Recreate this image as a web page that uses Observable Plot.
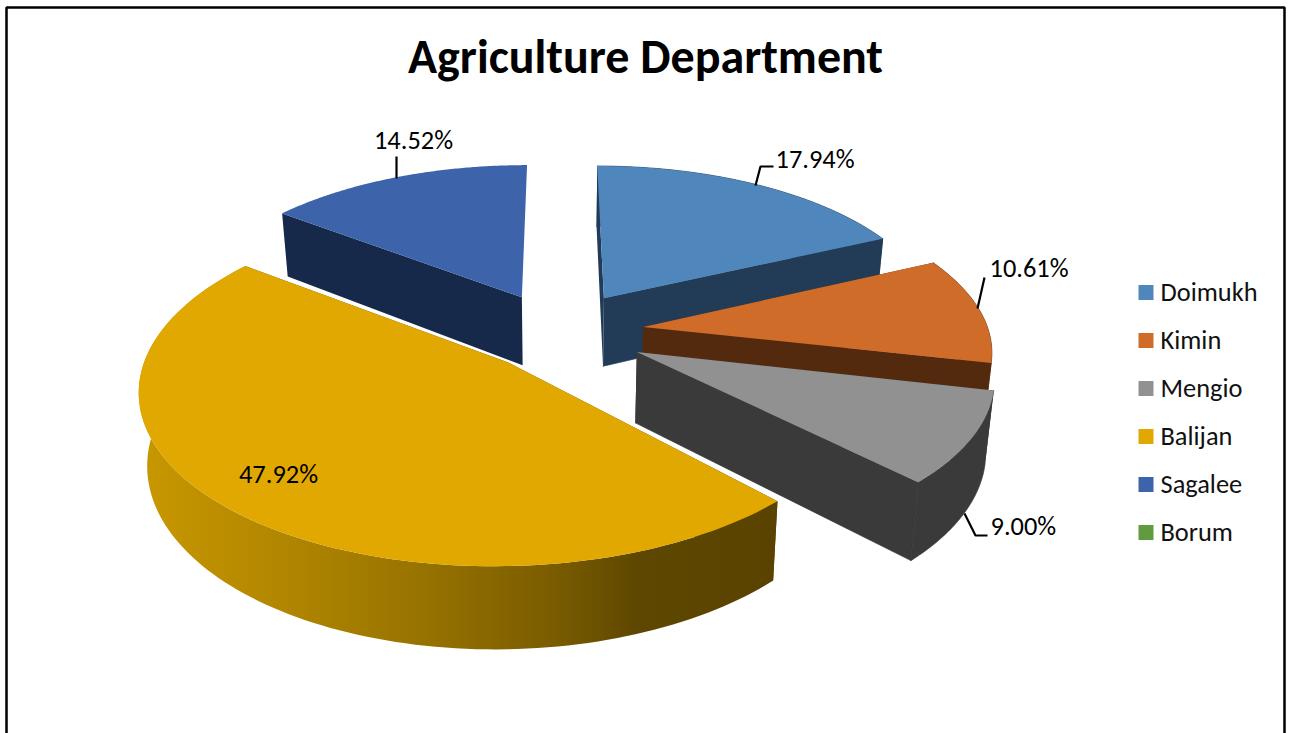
<!DOCTYPE html>
<html>
<head>
<meta charset="utf-8">
<title>Agriculture Department</title>
<script src="https://cdn.jsdelivr.net/npm/d3@7"></script>
<script src="https://cdn.jsdelivr.net/npm/@observablehq/plot@0.6"></script>
<style>
  html, body { margin: 0; padding: 0; background: #fff; }
  svg { display: block; }
</style>
</head>
<body>
<div id="chart"></div>
<script>
// Share of the department's budget by circle, in percent.
const circles = ["Doimukh", "Kimin", "Mengio", "Balijan", "Sagalee", "Borum"];
const shares = [17.94, 10.61, 9.00, 47.92, 14.52, 0];
const topColors = ["#4f86bb", "#cf6c29", "#919191", "#e0a800", "#3d64ab", "#629a3f"];
const wallColors = ["#223b57", "#542a0f", "#3a3a3a", "#5a4300", "#17294a", "#2f4c1e"];

// Labelled slices: where the text sits and the leader running back to the pie.
const labelSpots = [
  {circle: "Doimukh", x: 775, y: 159, anchor: "start", leader: [[755, 185], [760, 166], [773, 166]]},
  {circle: "Kimin", x: 989, y: 268, anchor: "start", leader: [[977, 308], [984, 277]]},
  {circle: "Mengio", x: 990, y: 526, anchor: "start", leader: [[964, 513], [975, 535], [987, 535]]},
  {circle: "Balijan", x: 278, y: 474, anchor: "middle", leader: []},
  {circle: "Sagalee", x: 413, y: 140, anchor: "middle", leader: [[396, 156], [396, 178]]}
];

// Perspective view of the disc: rays recede to a vanishing point high above it.
const view = {hubX: 558, vanishX: 560, horizon: -890, reach: 1225, foreshorten: 0.131,
  radius: 347, explodeU: 0.241, explodeV: 0.26, drop: 70, pinch: 0.98};
// Per-slice lens correction of the 3D view: arc size, arc offset and tip offset, in disc units.
const lens = {
  Doimukh: {width: 0.98, depth: 1, arc: [0, 0.006], tip: [0.006, 0.013]},
  Kimin: {width: 1.005, depth: 1, arc: [0, 0.025], tip: [0.006, 0]},
  Mengio: {width: 1.015, depth: 1, arc: [0, 0.019], tip: [0.012, 0.006]},
  Balijan: {width: 1.012, depth: 1.035, arc: [0.003, 0.02], tip: [0.015, 0.01]},
  Sagalee: {width: 0.985, depth: 1, arc: [0, 0], tip: [-0.003, 0.012]},
  Borum: {width: 1, depth: 1, arc: [0, 0], tip: [0, 0]}
};

function project(u, v, lowered) {
  const t = 1 / (1 + view.foreshorten * v);
  const top = [view.vanishX + (view.hubX - view.vanishX + view.radius * u) * t,
               view.horizon + view.reach * t];
  if (!lowered) return top;
  return [view.vanishX + (top[0] - view.vanishX) * view.pinch,
          view.horizon + (view.reach + view.drop) * t];
}

const total = d3.sum(shares);
const turn = 2 * Math.PI;
let running = 0;
const slices = circles.map((circle, i) => {
  const start = running / total * turn;
  running += shares[i];
  const end = running / total * turn;
  const mid = (start + end) / 2;
  const {width, depth, arc, tip} = lens[circle];
  const cu = view.explodeU * Math.sin(mid) + arc[0];
  const cv = view.explodeV * Math.cos(mid) + arc[1];
  const at = (a, lowered) => project(cu + width * Math.sin(a), cv + depth * Math.cos(a), lowered);
  const angles = d3.range(0, 121).map((k) => start + (end - start) * k / 120);
  const hub = (lowered) => project(cu + tip[0], cv + tip[1], lowered);
  const arcTop = angles.map((a) => at(a, false));
  const arcLow = angles.map((a) => at(a, true));
  return {
    circle, share: shares[i], top: topColors[i], wall: wallColors[i],
    cap: [hub(false), ...arcTop],
    startWall: [hub(false), at(start, false), at(start, true), hub(true)],
    endWall: [hub(false), at(end, false), at(end, true), hub(true)],
    rim: [...arcTop, ...arcLow.reverse()]
  };
});

const polygon = (points, fill, seam = "none") =>
  Plot.line(points, {x: (d) => d[0], y: (d) => d[1], fill, stroke: seam, strokeWidth: 0.7});

// Gradient across the Balijan rim, bright on the left and dark on the right.
const rimShade = () => {
  const defs = d3.create("svg:defs");
  const g = defs.append("linearGradient").attr("id", "balijan-rim")
    .attr("gradientUnits", "userSpaceOnUse")
    .attr("x1", 140).attr("x2", 775).attr("y1", 0).attr("y2", 0);
  [[0, "#c89800"], [0.2, "#b48800"], [0.45, "#967200"], [0.65, "#7a5c00"], [0.78, "#5e4700"], [1, "#5a4300"]]
    .forEach(([o, c]) => g.append("stop").attr("offset", o).attr("stop-color", c));
  return defs.node();
};

// Back slices first so the nearer ones paint over them.
const paintOrder = ["Borum", "Sagalee", "Doimukh", "Kimin", "Mengio", "Balijan"];
const sliceMarks = paintOrder.flatMap((name) => {
  const s = slices.find((d) => d.circle === name);
  if (!s.share) return [];
  const shaded = name === "Balijan";
  // Sagalee's rim and closing wall face away from the viewer.
  const hidden = name === "Sagalee";
  return [
    polygon(s.startWall, s.wall),
    ...(hidden ? [] : [
      polygon(s.endWall, s.wall, shaded ? "none" : s.wall),
      polygon(s.rim, shaded ? "url(#balijan-rim)" : s.wall, shaded ? "none" : s.wall)
    ]),
    polygon(s.cap, s.top)
  ];
});

const labels = labelSpots.map((d) => ({
  ...d, text: shares[circles.indexOf(d.circle)].toFixed(2) + "%"
}));

const legendRows = circles.map((circle, i) => ({
  circle, color: topColors[i], y: 292 + i * 48
}));

const labelText = (anchor) =>
  Plot.text(labels.filter((d) => d.anchor === anchor), {
    x: "x", y: "y", text: "text", textAnchor: anchor,
    fontSize: 26.4, fill: "#000", lineAnchor: "middle"
  });

const chart = Plot.plot({
  width: 1290,
  height: 733,
  margin: 0,
  x: {domain: [0, 1290], range: [0, 1290], axis: null},
  y: {domain: [0, 733], range: [0, 733], axis: null},
  style: {background: "#fff", fontFamily: "Carlito, Lato, sans-serif"},
  marks: [
    rimShade,
    Plot.line([[6, 733], [6, 7], [1284, 7], [1284, 733]], {
      x: (d) => d[0], y: (d) => d[1], stroke: "#000", strokeWidth: 2.5,
      strokeLinejoin: "miter", strokeLinecap: "butt"
    }),
    ...sliceMarks,
    ...labels.filter((d) => d.leader.length).map((d) =>
      Plot.line(d.leader, {x: (p) => p[0], y: (p) => p[1], stroke: "#000", strokeWidth: 2.2,
        strokeLinejoin: "miter", strokeLinecap: "butt"})),
    labelText("start"),
    labelText("middle"),
    Plot.text(["Agriculture Department"], {x: 645, y: 57, text: (d) => d,
      fontSize: 48, fontWeight: 700, fill: "#000", lineAnchor: "middle"}),
    Plot.dot(legendRows, {x: 1145.5, y: "y", symbol: "square", r: 8.46,
      fill: "color", stroke: "none"}),
    Plot.text(legendRows, {x: 1160, y: "y", text: "circle", textAnchor: "start",
      fontSize: 26.4, fill: "#111", lineAnchor: "middle"})
  ]
});
document.getElementById("chart").append(chart);
</script>
</body>
</html>
